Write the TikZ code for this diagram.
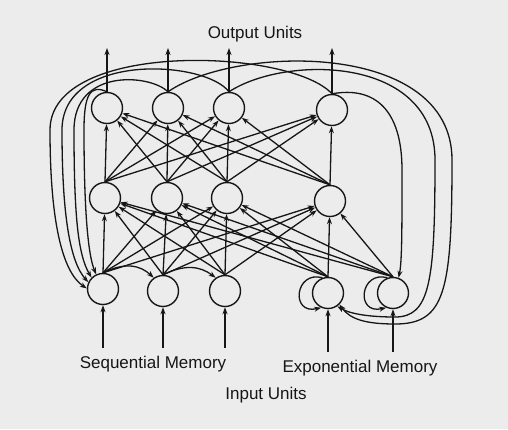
\documentclass[tikz,border=0pt]{standalone}
\usepackage{fontspec}
\setmainfont{Liberation Sans}
\usetikzlibrary{arrows.meta}
\definecolor{ink}{RGB}{22,22,22}
\definecolor{paper}{RGB}{236,236,236}
\begin{document}
\begin{tikzpicture}[x=1pt,y=-1pt,
  unit/.style={circle,draw=ink,line width=1.4pt,minimum size=31pt,inner sep=0pt},
  conn/.style={draw=ink,line width=1.3pt,-{Stealth[length=7pt,width=5pt]}},
  lab/.style={font=\fontsize{17}{20}\selectfont,text=ink,anchor=base,inner sep=0pt}]
\fill[paper] (0,0) rectangle (508,429);
\useasboundingbox (0,0) rectangle (508,429);

% units
\node[unit] (o1) at (107,108) {};
\node[unit] (o2) at (168,108) {};
\node[unit] (o3) at (229,108) {};
\node[unit] (o4) at (332,110) {};
\node[unit] (h1) at (105,198) {};
\node[unit] (h2) at (167,198) {};
\node[unit] (h3) at (227,198) {};
\node[unit] (h4) at (330,201) {};
\node[unit] (i1) at (103,289) {};
\node[unit] (i2) at (163,291) {};
\node[unit] (i3) at (225,291) {};
\node[unit] (i4) at (328,293) {};
\node[unit] (i5) at (393,293) {};

% free ends
\coordinate (t1) at (107,48);
\coordinate (t2) at (168,48);
\coordinate (t3) at (229,48);
\coordinate (t4) at (332,48);
\coordinate (s1) at (103,348);
\coordinate (s2) at (163,348);
\coordinate (s3) at (225,348);
\coordinate (s4) at (328,352);
\coordinate (s5) at (393,352);

% labels
\node[lab] (lout) at (255,38) {Output Units};
\node[lab] (lseq) at (153,368) {Sequential Memory};
\node[lab] (lexp) at (360,372) {Exponential Memory};
\node[lab] (lin) at (266,399) {Input Units};

% output and input arrows
\foreach \k in {1,2,3,4} \draw[conn] (o\k.north) -- (t\k);
\foreach \k in {1,...,5} \draw[conn] (s\k) -- (i\k.south);

% hidden -> output
\foreach \a in {1,2,3,4} \foreach \b in {1,2,3,4} \draw[conn] (h\a.north) -- (o\b);
% input -> hidden
\foreach \a in {1,...,5} \foreach \b in {1,2,3,4} \draw[conn] (i\a.north) -- (h\b);

% sequential memory chain
\draw[conn] (i1.north) .. controls (125,262) and (140,265) .. (i2.125);
\draw[conn] (i2.north) .. controls (185,264) and (200,266) .. (i3.125);

% exponential memory self loops
\draw[conn] (i4.110) .. controls (295,270) and (290,315) .. (i4.245);
\draw[conn] (i5.110) .. controls (360,270) and (355,315) .. (i5.245);

% recurrent links to sequential memory (left side)
\draw[conn] (o1.north) .. controls (90,84) and (84,95) .. (84,130) .. controls (84,210) and (88,255) .. (i1.115);
\draw[conn] (o2.north) .. controls (150,74) and (74,68) .. (74,130) .. controls (74,215) and (78,255) .. (i1.135);
\draw[conn] (o3.north) .. controls (205,60) and (62,52) .. (62,130) .. controls (62,215) and (70,262) .. (i1.155);
\draw[conn] (o4.north) .. controls (290,48) and (50,40) .. (50,130) .. controls (50,220) and (62,272) .. (i1.178);

% recurrent links to exponential memory (right side)
\draw[conn] (o4.north) .. controls (375,86) and (402,110) .. (402,170) .. controls (402,230) and (402,262) .. (i5.70);
\draw[conn] (o3.north) .. controls (285,55) and (435,55) .. (435,160) .. controls (435,282) and (430,317) .. (395,317) .. controls (370,317) and (350,314) .. (i4.-55);
\draw[conn] (o2.north) .. controls (235,45) and (452,40) .. (452,160) .. controls (452,292) and (445,324) .. (395,324) .. controls (365,324) and (350,319) .. (i4.-45);
\end{tikzpicture}
\end{document}
